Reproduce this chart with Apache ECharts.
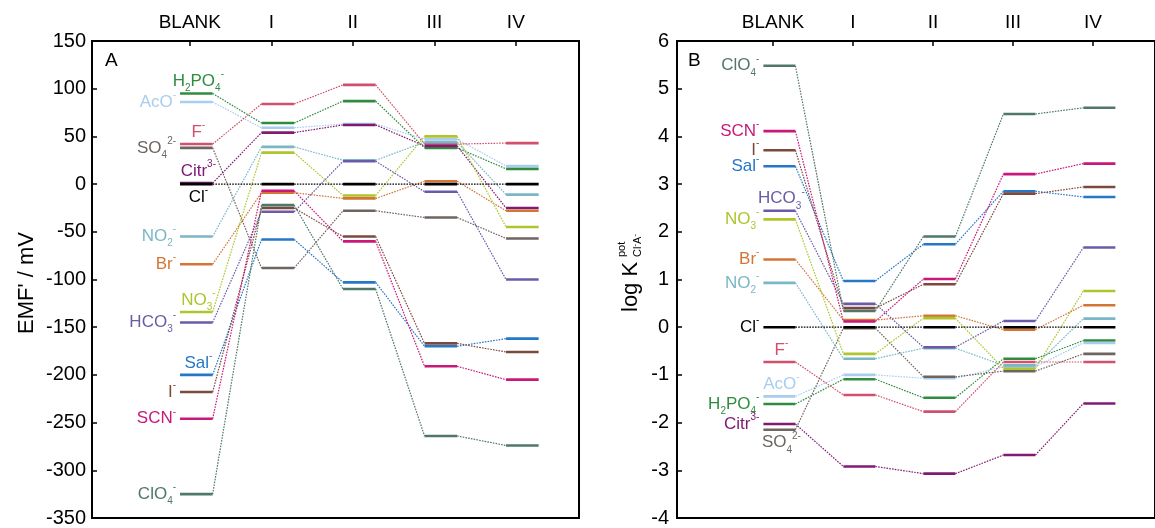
<!DOCTYPE html>
<html><head><meta charset="utf-8">
<script src="https://cdn.jsdelivr.net/npm/echarts@6/dist/echarts.min.js"></script>
<style>html,body{margin:0;padding:0;background:#fff}#c{width:1155px;height:528px}</style>
</head><body><div id="c"></div>
<script>
// ---- categories (top axis) ----
const categories = ['BLANK', 'I', 'II', 'III', 'IV'];

// ---- Panel A: EMF' / mV ----
const emfH2PO4 = [95, 64, 87, 38, 16];
const emfAcO   = [86, 59, 63, 47, 19];
const emfF     = [42, 84, 104, 42, 43];
const emfSO4   = [38, -88, -28, -35, -57];
const emfCitr  = [1, 54, 62, 40, -25];
const emfCl    = [0, 0, 0, 0, 0];
const emfNO2   = [-55, 39, 25, 44, -11];
const emfBr    = [-84, -9, -15, 3, -28];
const emfNO3   = [-134, 33, -12, 50, -45];
const emfHCO3  = [-145, -29, 24, -8, -100];
const emfSal   = [-200, -58, -103, -170, -162];
const emfI     = [-218, -25, -55, -167, -176];
const emfSCN   = [-246, -7, -60, -191, -205];
const emfClO4  = [-325, -22, -110, -264, -274];

// ---- Panel B: log K(pot) Cl-,A- ----
const logkClO4  = [5.48, 0.34, 1.90, 4.47, 4.60];
const logkSCN   = [4.11, 0.12, 1.01, 3.21, 3.43];
const logkI     = [3.71, 0.40, 0.90, 2.80, 2.94];
const logkSal   = [3.375, 0.97, 1.74, 2.85, 2.73];
const logkHCO3  = [2.44, 0.49, -0.42, 0.13, 1.67];
const logkNO3   = [2.26, -0.56, 0.19, -0.87, 0.76];
const logkBr    = [1.42, 0.15, 0.24, -0.05, 0.46];
const logkNO2   = [0.93, -0.66, -0.44, -0.80, 0.18];
const logkCl    = [0, 0, 0, 0, 0];
const logkF     = [-0.73, -1.42, -1.77, -0.73, -0.73];
const logkAcO   = [-1.45, -1.00, -1.07, -0.83, -0.33];
const logkH2PO4 = [-1.61, -1.09, -1.48, -0.66, -0.28];
const logkCitr  = [-2.03, -2.92, -3.07, -2.68, -1.60];
const logkSO4   = [-2.15, -0.02, -1.04, -0.92, -0.56];

// ---- axis ranges ----
const yRangeA = {min: -350, max: 150, interval: 50};
const yRangeB = {min: -4, max: 6, interval: 1};

// ---- ion styling / label markup ----
const ions = [
  {label: 'H{sub|2}PO{sub|4}{sup|-}', color: '#2f8c3e', a: emfH2PO4, b: logkH2PO4, posA: 'above', posB: 'left'},
  {label: 'AcO{sup|-}',              color: '#a8cdee', a: emfAcO,   b: logkAcO,   posA: 'left',  posB: 'above'},
  {label: 'F{sup|-}',                color: '#d0506e', a: emfF,     b: logkF,     posA: 'above', posB: 'above'},
  {label: 'SO{sub|4}{sup|2-}',       color: '#6e6560', a: emfSO4,   b: logkSO4,   posA: 'left',  posB: 'below'},
  {label: 'Citr{sup|3-}',            color: '#801a72', a: emfCitr,  b: logkCitr,  posA: 'above', posB: 'left'},
  {label: 'NO{sub|2}{sup|-}',        color: '#7ab6c6', a: emfNO2,   b: logkNO2,   posA: 'left',  posB: 'left'},
  {label: 'Br{sup|-}',               color: '#d47535', a: emfBr,    b: logkBr,    posA: 'left',  posB: 'left'},
  {label: 'NO{sub|3}{sup|-}',        color: '#afc52e', a: emfNO3,   b: logkNO3,   posA: 'above', posB: 'left'},
  {label: 'HCO{sub|3}{sup|-}',       color: '#6b5aa8', a: emfHCO3,  b: logkHCO3,  posA: 'left',  posB: 'above'},
  {label: 'Sal{sup|-}',              color: '#2577c8', a: emfSal,   b: logkSal,   posA: 'above', posB: 'left'},
  {label: 'I{sup|-}',                color: '#7b4a3c', a: emfI,     b: logkI,     posA: 'left',  posB: 'left'},
  {label: 'SCN{sup|-}',              color: '#c8197a', a: emfSCN,   b: logkSCN,   posA: 'left',  posB: 'left'},
  {label: 'ClO{sub|4}{sup|-}',       color: '#4f7868', a: emfClO4,  b: logkClO4,  posA: 'left',  posB: 'left'},
  {label: 'Cl{sup|-}',               color: '#000000', a: emfCl,    b: logkCl,    posA: 'below', posB: 'left'}
];

const FONT = '"Liberation Sans", Arial, sans-serif';
const SEG_L = -0.12, SEG_R = 0.28;

function richFor(color) {
  return {
    sub: {fontSize: 10, lineHeight: 10, verticalAlign: 'bottom', fill: color, fontFamily: FONT},
    sup: {fontSize: 10, lineHeight: 10, verticalAlign: 'top', fill: color, fontFamily: FONT}
  };
}

function makeSeries(ion, values, g, place) {
  const n = values.length;
  return {
    type: 'custom',
    xAxisIndex: g, yAxisIndex: g,
    data: values.map((v, i) => [i, v, i < n - 1 ? values[i + 1] : v]),
    encode: {x: 0, y: 1},
    silent: true,
    renderItem(params, api) {
      const i = api.value(0), v = api.value(1), nv = api.value(2);
      const a = api.coord([i + SEG_L, v]);
      const b = api.coord([i + SEG_R, v]);
      const children = [{
        type: 'line', z2: 10,
        shape: {x1: a[0], y1: a[1], x2: b[0], y2: b[1]},
        style: {stroke: ion.color, lineWidth: 2.6}
      }];
      if (i < n - 1) {
        const c = api.coord([i + 1 + SEG_L, nv]);
        children.push({
          type: 'line',
          shape: {x1: b[0], y1: b[1], x2: c[0], y2: c[1]},
          style: {stroke: ion.color, lineWidth: 1.2, lineDash: [1.6, 1.2]}
        });
      }
      if (i === 0) {
        const mid = (a[0] + b[0]) / 2;
        let x, y, align;
        if (place === 'left') { x = a[0] - 4; y = a[1]; align = 'right'; }
        else if (place === 'above') { x = mid + 2; y = a[1] - 12; align = 'center'; }
        else { x = mid + 2; y = a[1] + 13; align = 'center'; }
        children.push({
          type: 'text',
          style: {
            text: ion.label, x: x, y: y, align: align, verticalAlign: 'middle',
            fill: ion.color, fontSize: 17, fontFamily: FONT, lineHeight: 24,
            rich: richFor(ion.color)
          }
        });
      }
      return {type: 'group', children: children};
    }
  };
}

const tickIdx = categories.map((c, i) => i);

function xAxisFor(g) {
  return {
    type: 'value', gridIndex: g, position: 'top', min: -1.2, max: 4.775,
    axisLine: {show: true, onZero: false, lineStyle: {color: '#000', width: 2}}, splitLine: {show: false},
    axisTick: {show: true, inside: true, length: 5, customValues: tickIdx, lineStyle: {color: '#000', width: 1.5}},
    axisLabel: {customValues: tickIdx, formatter: v => categories[Math.round(v)] || '',
      fontSize: 19, color: '#000', margin: 9, fontFamily: FONT}
  };
}
function yAxisFor(g, r, margin) {
  return {
    type: 'value', gridIndex: g, position: 'left', min: r.min, max: r.max, interval: r.interval,
    axisLine: {show: true, onZero: false, lineStyle: {color: '#000', width: 2}}, splitLine: {show: false},
    axisTick: {show: true, inside: true, length: 5, lineStyle: {color: '#000', width: 1.5}},
    axisLabel: {fontSize: 20, color: '#000', margin: margin, fontFamily: FONT}
  };
}

const series = [];
ions.forEach(ion => series.push(makeSeries(ion, ion.a, 0, ion.posA)));
ions.forEach(ion => series.push(makeSeries(ion, ion.b, 1, ion.posB)));

const chart = echarts.init(document.getElementById('c'), null, {renderer: 'canvas'});
chart.setOption({
  animation: false,
  backgroundColor: '#fff',
  grid: [
    {left: 92, top: 41, width: 487, height: 480, show: true, borderColor: '#000', borderWidth: 2, backgroundColor: 'transparent'},
    {left: 677, top: 41, width: 487, height: 479, show: true, borderColor: '#000', borderWidth: 2, backgroundColor: 'transparent'}
  ],
  xAxis: [xAxisFor(0), xAxisFor(1)],
  yAxis: [yAxisFor(0, yRangeA, 6), yAxisFor(1, yRangeB, 8)],
  graphic: [
    {type: 'text', x: 105, y: 61, style: {text: 'A', fontSize: 19, fill: '#000', fontFamily: FONT, verticalAlign: 'middle'}},
    {type: 'text', x: 688, y: 61, style: {text: 'B', fontSize: 19, fill: '#000', fontFamily: FONT, verticalAlign: 'middle'}},
    {type: 'text', x: 27, y: 283, rotation: Math.PI / 2,
      style: {text: "EMF' / mV", fontSize: 22, fill: '#000', fontFamily: FONT, align: 'center', verticalAlign: 'middle'}},
    {type: 'group', x: 631, y: 270, rotation: Math.PI / 2, children: [
      {type: 'text', x: -42, y: 0, style: {text: 'log K', fontSize: 22, fill: '#000', fontFamily: FONT, align: 'left', verticalAlign: 'middle'}},
      {type: 'text', x: 13, y: -9, style: {text: 'pot', fontSize: 11, fill: '#000', fontFamily: FONT, align: 'left', verticalAlign: 'middle'}},
      {type: 'text', x: 13, y: 7, style: {text: 'Cl{s|-}A{s|-}', fontSize: 11, fill: '#000', fontFamily: FONT, align: 'left', verticalAlign: 'middle', lineHeight: 14,
        rich: {s: {fontSize: 8, lineHeight: 8, verticalAlign: 'top', fill: '#000', fontFamily: FONT}}}}
    ]}
  ],
  series: series
});
</script>
</body></html>
